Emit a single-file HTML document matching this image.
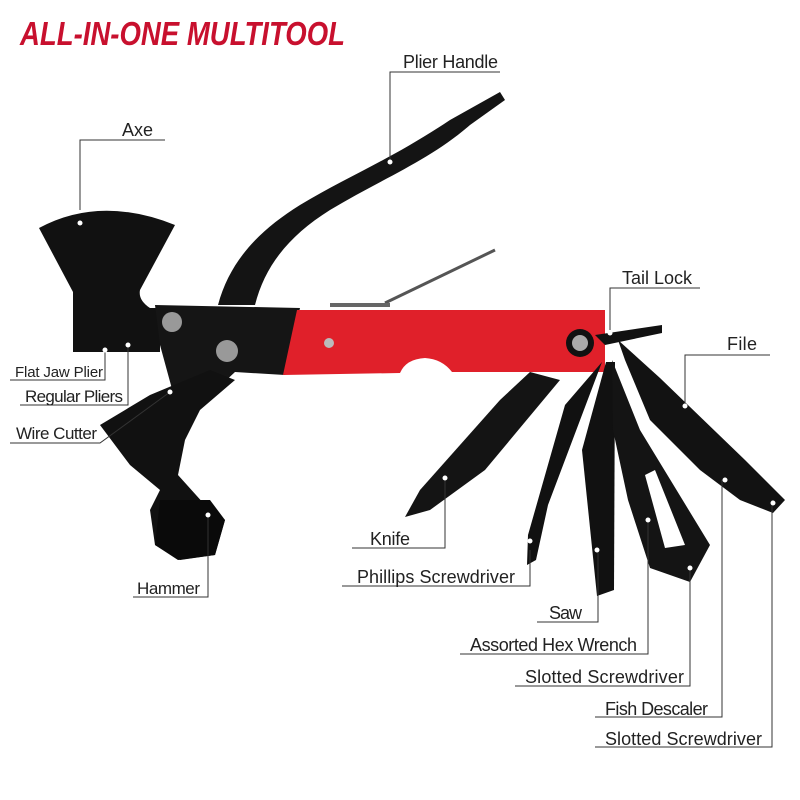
<!DOCTYPE html>
<html><head><meta charset="utf-8"><style>
html,body{margin:0;padding:0;background:#fff;width:800px;height:800px;overflow:hidden}
svg{display:block}
text{font-family:"Liberation Sans",sans-serif;font-size:18px;fill:#222}
</style></head><body>
<svg width="800" height="800" viewBox="0 0 800 800">
<text x="20" y="45" textLength="325" lengthAdjust="spacingAndGlyphs" style="font-size:33px;font-weight:bold;font-style:italic;fill:#c8102e">ALL-IN-ONE MULTITOOL</text>

<path d="M218,305 C230,260 260,230 300,205 C350,175 390,160 450,120 L500,92 L505,100 L470,125 C430,160 380,180 330,210 C290,235 265,265 255,305 Z" fill="#141414"/>
<path d="M385,303 L495,250" stroke="#555" stroke-width="3" fill="none"/>
<path d="M330,305 L390,305" stroke="#666" stroke-width="4"/>
<path d="M39,228 Q100,195 175,225 L140,290 Q138,300 150,308 L160,308 L160,352 L73,352 L73,292 Z" fill="#111"/>
<path d="M155,305 L300,308 L285,375 L235,372 L205,400 L175,400 L160,345 Z" fill="#151515"/>
<path d="M100,425 L150,395 L210,370 L235,380 L200,410 L185,440 L178,475 L205,505 L225,520 L215,555 L180,560 L155,545 L150,510 L160,490 L130,465 Z" fill="#111"/>
<path d="M160,500 L210,500 L225,520 L215,555 L178,560 L155,545 Z" fill="#0a0a0a"/>
<circle cx="172" cy="322" r="10" fill="#999"/>
<circle cx="227" cy="351" r="11" fill="#999"/>
<path d="M297,310 L605,310 L605,372 L452,372 Q442,359 425,358 Q406,359 400,373 L283,375 Z" fill="#e0202a"/>
<circle cx="329" cy="343" r="5" fill="#bbb"/>
<circle cx="580" cy="343" r="14" fill="#111"/><circle cx="580" cy="343" r="8" fill="#aaa"/>
<path d="M595,335 L662,325 L662,333 L605,345 Z" fill="#111"/>
<path d="M530,372 L560,380 L485,470 L430,510 L405,517 L420,490 L500,400 Z" fill="#141414"/>
<path d="M565,405 L602,362 L548,505 L536,560 L527,565 L528,535 Z" fill="#111"/>
<path d="M582,450 L606,362 L615,362 L614,590 L597,596 Z" fill="#111"/>
<path d="M612,360 L640,430 L710,545 L690,582 L650,568 L628,500 L613,430 Z" fill="#141414"/>
<path d="M645,475 L655,470 L685,545 L665,548 Z" fill="#fff"/>
<path d="M618,340 L660,378 L745,460 L785,500 L773,513 L740,500 L700,470 L650,420 L625,360 Z" fill="#121212"/>

<g stroke="#333" stroke-width="1" fill="none">
<path d="M500,72 H390 V160"/>
<path d="M165,140 H80 V210"/>
<path d="M700,288 H610 V330"/>
<path d="M770,355 H685 V405"/>
<path d="M10,380 H105 V348"/>
<path d="M20,405 H128 V345"/>
<path d="M10,443 H100 L170,392"/>
<path d="M133,597 H208 V515"/>
<path d="M352,548 H445 V478"/>
<path d="M342,586 H530 V550"/>
<path d="M537,622 H598 V550"/>
<path d="M460,654 H648 V520"/>
<path d="M515,686 H690 V570"/>
<path d="M595,717 H722 V480"/>
<path d="M595,747 H772 V500"/>
</g>
<g fill="#fff">
<circle cx="390" cy="162" r="2.5"/><circle cx="80" cy="223" r="2.5"/><circle cx="610" cy="333" r="2.5"/>
<circle cx="685" cy="406" r="2.5"/><circle cx="105" cy="350" r="2.5"/><circle cx="128" cy="345" r="2.5"/>
<circle cx="170" cy="392" r="2.5"/><circle cx="208" cy="515" r="2.5"/><circle cx="445" cy="478" r="2.5"/>
<circle cx="530" cy="541" r="2.5"/><circle cx="597" cy="550" r="2.5"/><circle cx="648" cy="520" r="2.5"/>
<circle cx="690" cy="568" r="2.5"/><circle cx="725" cy="480" r="2.5"/><circle cx="773" cy="503" r="2.5"/>
</g>

<text x="403" y="68" textLength="95">Plier Handle</text>
<text x="122" y="136" textLength="31">Axe</text>
<text x="622" y="284" textLength="70">Tail Lock</text>
<text x="727" y="350" textLength="30">File</text>
<text x="15" y="377" textLength="88" style="font-size:15px">Flat Jaw Plier</text>
<text x="25" y="402" textLength="98" style="font-size:17px">Regular Pliers</text>
<text x="16" y="439" textLength="81" style="font-size:17px">Wire Cutter</text>
<text x="137" y="594" textLength="63" style="font-size:17px">Hammer</text>
<text x="370" y="545" textLength="40">Knife</text>
<text x="357" y="583" textLength="158">Phillips Screwdriver</text>
<text x="549" y="619" textLength="33">Saw</text>
<text x="470" y="651" textLength="167">Assorted Hex Wrench</text>
<text x="525" y="683" textLength="159">Slotted Screwdriver</text>
<text x="605" y="715" textLength="103">Fish Descaler</text>
<text x="605" y="745" textLength="157">Slotted Screwdriver</text>
</svg>
</body></html>
